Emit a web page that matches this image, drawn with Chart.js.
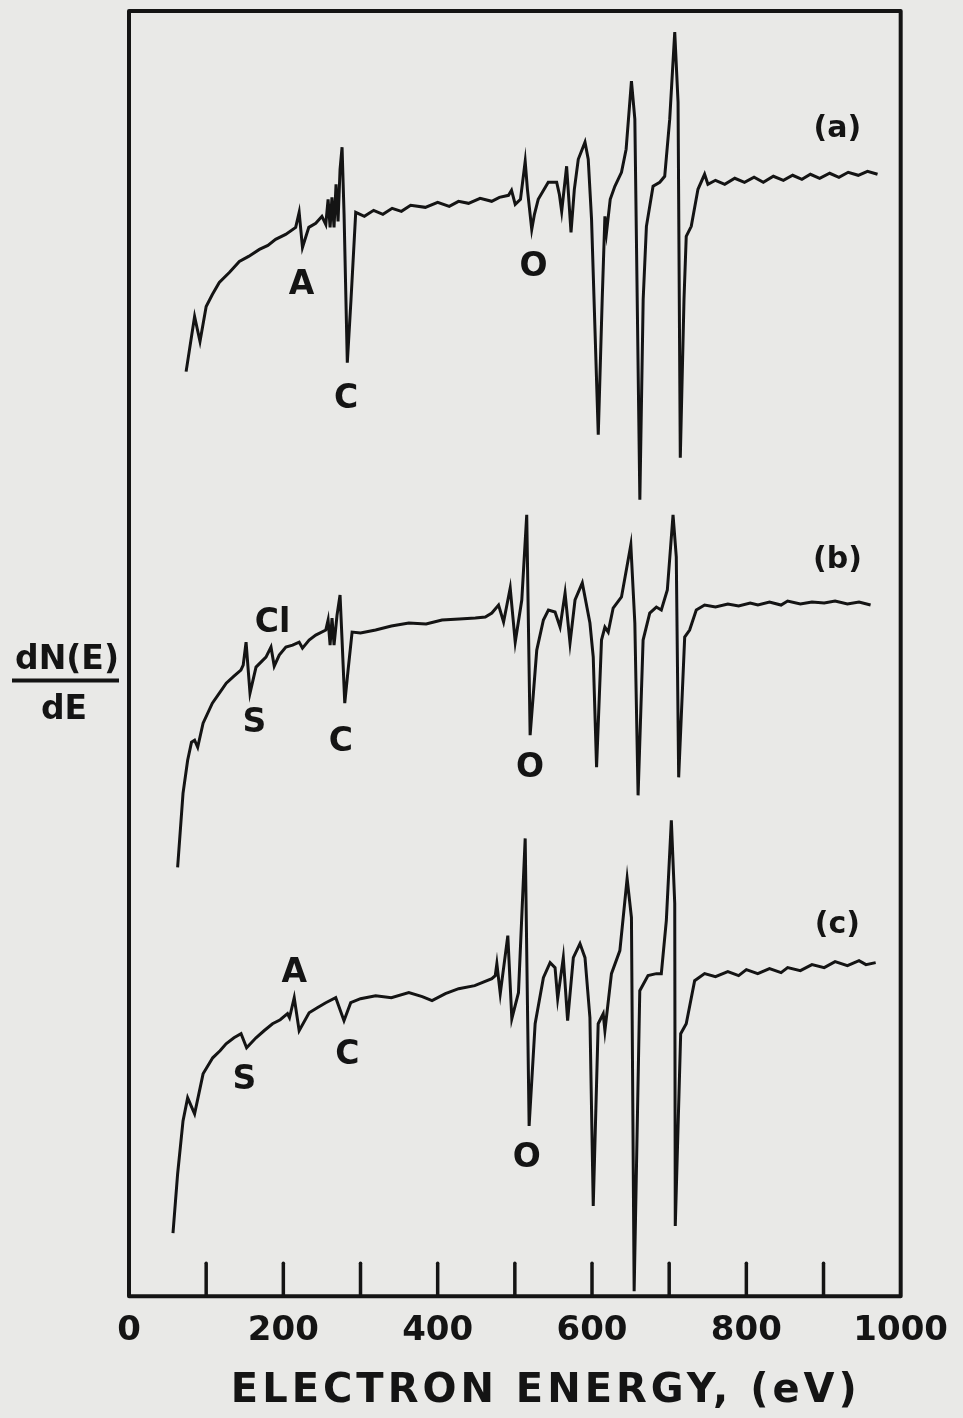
<!DOCTYPE html>
<html>
<head>
<meta charset="utf-8">
<script src="https://cdn.jsdelivr.net/npm/chart.js@4.4.1/dist/chart.umd.min.js"></script>
<style>
  html, body { margin: 0; padding: 0; background: #e9e9e7; }
  #wrap { width: 963px; height: 1418px; }
</style>
</head>
<body>
<div id="wrap"><canvas id="augerChart" width="963" height="1418"></canvas></div>
<script>
// Auger spectra (a), (b), (c): electron energy (eV) vs dN(E)/dE, arbitrary units, curves offset
const energyA = [74, 85, 92, 100, 108, 117, 130, 143, 155, 169, 180, 190, 203, 216, 220.5, 224.8, 233, 242, 250,
    255, 258, 260.6, 263, 265.7, 268.3, 270.9, 273.5, 276.1, 278.7, 282.9, 287.7, 293.8, 305, 317, 329, 341, 353, 365,
    384, 400, 415, 427, 440, 455, 470, 480, 491.8, 495.7, 500.5, 507.3, 513.4, 516.3, 521.9, 525.4, 530.3, 543.3,
    554.2, 557.7, 560.7, 567.1, 572.8, 577.1, 582.2, 590.9, 595.1, 599.4, 608.1, 613.2, 616.7, 618.8, 623.6, 629.6,
    638.2, 644.2, 651.1, 655.5, 662, 666.3, 670.5, 679.1, 687.8, 694.2, 700.7, 707.2, 711.5, 714.4, 719.2, 722.1,
    728.6, 737.3, 745.9, 750.2, 760, 772, 785, 797.6, 810, 822, 835, 848, 860, 872, 883, 895, 908, 920, 932, 945, 957, 970];
const signalA = [923, 978, 953, 988, 1000, 1012, 1022, 1033, 1038, 1045, 1049, 1055, 1060, 1067, 1082, 1047, 1067, 1071, 1078,
    1070, 1095, 1067, 1097, 1067, 1110, 1073, 1125, 1147, 1080, 932, 995, 1082, 1078, 1084, 1080, 1086, 1083, 1089,
    1087, 1092, 1088, 1093, 1091, 1096, 1093, 1097, 1099, 1104, 1090, 1095, 1133, 1105, 1065, 1080, 1095, 1112,
    1112, 1100, 1083, 1128, 1062, 1105, 1135, 1152, 1135, 1075, 860, 995, 1078, 1062, 1095, 1108,
    1122, 1145, 1213, 1175, 795, 995, 1068, 1108, 1112, 1118, 1175, 1262, 1192, 837, 995, 1058,
    1068, 1105, 1120, 1110, 1114, 1110, 1116, 1112, 1117, 1112, 1118, 1114, 1119, 1115, 1120, 1116, 1121, 1117, 1122, 1119, 1123, 1120];

const energyB = [63, 70, 76, 81, 85, 89, 96, 108, 118, 126, 136, 145, 148, 151.7, 156.8, 164.6, 177.5, 184, 188.2, 194.7,
    203.3, 212, 220.5, 224.8, 233.4, 242, 255, 258, 260.6, 263.1, 265.7, 269.6, 273.5, 276.1, 279.6, 283.9, 289.1, 300,
    319.6, 340, 362.6, 385, 405.6, 428, 448.8, 461.7, 470.2, 478.9, 485.4, 494, 500.5, 509, 515.4, 519.8, 528.4, 537,
    543.5, 552.1, 558.6, 565.1, 571.5, 578, 587.4, 597.3, 601.6, 605.9, 612.3, 616.7, 621, 627.4, 638.2, 650.3, 655.5,
    659.7, 666.2, 674.8, 683.4, 689.8, 697.6, 705, 709.2, 712.3, 720.1, 726.5, 735.1, 745.9, 760, 776, 790, 805, 815,
    830, 845, 853.5, 870, 885, 900.9, 915, 931, 946, 961];
const signalB = [428, 502, 535, 553, 555, 548, 572, 592, 603, 612, 619, 625, 630, 653, 602, 628, 638, 648, 629, 640,
    648, 650, 653, 647, 655, 660, 665, 675, 650, 677, 650, 680, 700, 655, 592, 625, 663, 662,
    665, 669, 672, 671, 675, 676, 677, 678, 682, 690, 673, 707, 653, 695, 780, 560, 645, 675,
    685, 683, 668, 702, 652, 695, 712, 672, 638, 528, 655, 668, 663, 687, 698, 750, 672,
    500, 655, 682, 688, 685, 705, 780, 738, 518, 658, 665, 685, 690, 688, 691, 689, 692, 690,
    693, 690, 694, 691, 693, 692, 694, 691, 693, 690];

const energyC = [57, 63, 70, 76, 85, 96, 108.5, 118, 125.8, 136, 145.2, 152.4, 164.6, 175, 186, 196, 205.4, 208, 214.1,
    220.5, 233.4, 244, 255, 267.9, 278.6, 287.3, 300, 319.6, 340, 362.6, 380, 392.7, 410, 427.2, 448, 470.2, 474.6,
    476.7, 481.1, 490.9, 496.1, 504.7, 513.4, 518.5, 526.3, 537, 545.7, 552.1, 555.5, 562.8, 568.4, 575.8, 584.4,
    590.9, 597.3, 601.6, 608, 614.5, 616.7, 625.2, 636.1, 645.5, 651.1, 654.6, 661.9, 672.6, 683.4, 689.8, 696.3,
    702.8, 707.2, 707.9, 714.9, 722.1, 733, 745.9, 760, 776, 790, 800, 814.8, 830, 845, 853.5, 870, 885, 900.9, 915,
    931, 946, 955, 967.6];
const signalC = [63, 122, 175, 198, 182, 222, 238, 245, 252, 258, 262, 248, 258, 265, 272, 276, 282, 278, 298,
    265, 283, 288, 293, 298, 275, 293, 297, 300, 298, 303, 299, 295, 302, 307, 310, 317, 320,
    332, 302, 360, 277, 303, 457, 170, 272, 318, 333, 328, 297, 338, 275, 338, 352,
    338, 278, 90, 272, 282, 265, 322, 345, 417, 378, 5, 305, 320, 322, 322, 375,
    475, 392, 70, 262, 272, 315, 322, 319, 324, 320, 326, 322, 327, 323, 328, 325, 331, 328, 334,
    330, 335, 331, 333];

// x axis ticks every 100 eV, labels every 200 eV
const xTicks = [0, 100, 200, 300, 400, 500, 600, 700, 800, 900, 1000];
const xTitle = 'ELECTRON ENERGY, (eV)';

// peak / curve labels (energy, signal)
const noteText = ['A', 'C', 'O', '(a)', 'Cl', 'S', 'C', 'O', '(b)', 'A', 'S', 'C', 'O', '(c)'];
const noteEnergy = [223.5, 281.2, 524.1, 918, 186, 162.4, 274.4, 519.8, 918, 214.1, 149.5, 282.9, 515.4, 918];
const noteSignal = [1009, 895, 1027, 1165, 672, 572, 553, 527, 735, 322, 215, 240, 138, 370];

const ink = '#141414';
const paper = '#e9e9e7';
const font = '"DejaVu Sans", "Liberation Sans", sans-serif';

function toPoints(xs, ys) {
    return xs.map((x, i) => ({ x: x, y: ys[i] }));
}

function curve(label, xs, ys) {
    return {
        label: label,
        data: toPoints(xs, ys),
        borderColor: ink,
        borderWidth: 3,
        pointRadius: 0,
        tension: 0,
        fill: false
    };
}

const paperPlugin = {
    id: 'paper',
    beforeDraw(chart) {
        const c = chart.ctx;
        c.save();
        c.fillStyle = paper;
        c.fillRect(0, 0, chart.width, chart.height);
        c.restore();
    }
};

const framePlugin = {
    id: 'frame',
    afterDatasetsDraw(chart) {
        const c = chart.ctx;
        const area = chart.chartArea;
        const x = chart.scales.x;
        c.save();
        c.strokeStyle = ink;
        c.lineWidth = 4;
        c.lineJoin = 'round';
        c.strokeRect(area.left, area.top, area.right - area.left, area.bottom - area.top);
        // inward tick marks
        c.lineWidth = 3.5;
        c.lineCap = 'round';
        xTicks.slice(1, -1).forEach(v => {
            const px = x.getPixelForValue(v);
            c.beginPath();
            c.moveTo(px, area.bottom);
            c.lineTo(px, area.bottom - 33);
            c.stroke();
        });
        c.restore();
    }
};

const notesPlugin = {
    id: 'notes',
    afterDatasetsDraw(chart) {
        const c = chart.ctx;
        const x = chart.scales.x;
        const y = chart.scales.y;
        const area = chart.chartArea;
        c.save();
        c.fillStyle = ink;
        c.textAlign = 'center';
        c.textBaseline = 'middle';
        noteText.forEach((t, i) => {
            const small = t.startsWith('(');
            c.font = 'bold ' + (small ? 30 : 33) + 'px ' + font;
            c.fillText(t, x.getPixelForValue(noteEnergy[i]), y.getPixelForValue(noteSignal[i]));
        });

        // y axis label as a fraction dN(E)/dE
        const cx = area.left - 62;
        const cy = (area.top + area.bottom) / 2 + 27;
        c.font = 'bold 33px ' + font;
        c.textBaseline = 'alphabetic';
        c.fillText('dN(E)', cx, cy - 12);
        c.fillText('dE', cx - 3, cy + 38);
        c.lineWidth = 4;
        c.strokeStyle = ink;
        c.beginPath();
        c.moveTo(cx - 55, cy);
        c.lineTo(cx + 52, cy);
        c.stroke();

        // x axis title, widely spaced lettering
        c.font = 'bold 40px ' + font;
        c.textBaseline = 'middle';
        c.letterSpacing = '4px';
        c.fillText(xTitle, (area.left + area.right) / 2 + 31, area.bottom + 95);
        c.restore();
    }
};

const ctx = document.getElementById('augerChart');
new Chart(ctx.getContext('2d'), {
    type: 'line',
    data: {
        datasets: [
            curve('(a)', energyA, signalA),
            curve('(b)', energyB, signalB),
            curve('(c)', energyC, signalC)
        ]
    },
    options: {
        responsive: false,
        animation: false,
        layout: { padding: { left: 129, right: 60, top: 11, bottom: 51 } },
        plugins: {
            legend: { display: false },
            tooltip: { enabled: false }
        },
        scales: {
            x: {
                type: 'linear',
                min: 0,
                max: 1000,
                grid: { display: false, drawTicks: false },
                border: { display: false },
                ticks: {
                    stepSize: 100,
                    autoSkip: false,
                    maxRotation: 0,
                    padding: 15,
                    color: ink,
                    font: { family: font, size: 34, weight: 'bold' },
                    callback: v => (v % 200 === 0 ? String(v) : '')
                },
                title: { display: false }
            },
            y: {
                display: false,
                min: 0,
                max: 1283
            }
        }
    },
    plugins: [paperPlugin, framePlugin, notesPlugin]
});
</script>
</body>
</html>
